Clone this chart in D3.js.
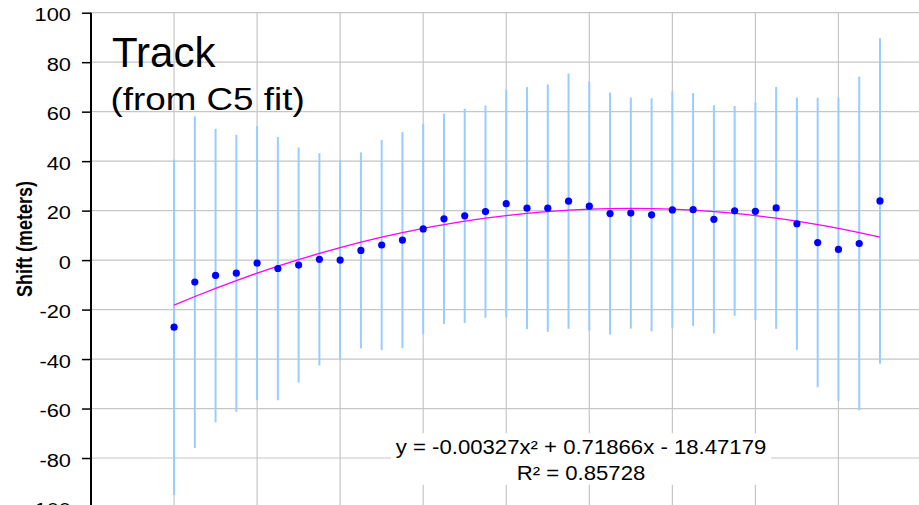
<!DOCTYPE html>
<html><head><meta charset="utf-8">
<script src="https://cdn.jsdelivr.net/npm/d3@7"></script>
<style>html,body{margin:0;padding:0;background:#fff;overflow:hidden}</style>
</head><body><svg id="c" width="919" height="505"></svg>
<script>
// ---- data ----
const xValues = [0,5,10,15,20,25,30,35,40,45,50,55,60,65,70,75,80,85,90,95,100,105,110,115,120,125,130,135,140,145,150,155,160,165,170];
const shift = [-27.1,-8.9,-6.2,-5.3,-1.2,-3.4,-2.0,0.3,0.0,3.9,6.1,8.1,12.6,16.7,17.9,19.6,22.8,21.0,21.0,23.8,21.8,18.8,19.0,18.3,20.3,20.4,16.5,19.9,19.7,21.1,14.7,7.1,4.3,6.7,23.9];
const errorBar = [67.8,67.0,59.3,56.0,55.4,53.2,47.5,42.9,40.5,39.6,42.5,43.7,42.5,42.5,43.3,42.9,45.9,48.9,50.0,51.6,50.4,48.9,46.7,47.1,47.9,47.1,46.1,42.4,43.9,48.9,51.0,58.5,61.3,67.4,65.8];
const yTicks = [-100,-80,-60,-40,-20,0,20,40,60,80,100];
const yTickLabels = ["-100","-80","-60","-40","-20","0","20","40","60","80","100"];
const xGridTicks = [-20,0,20,40,60,80,100,120,140,160,180];
const titleLines = ["Track", "(from C5 fit)"];
const yLabel = "Shift (meters)";
const equationLines = ["y = -0.00327x\u00B2 + 0.71866x - 18.47179", "R\u00B2 = 0.85728"];

// ---- layout ----
const svg = d3.select("#c");
const FONT = "'Liberation Sans', Arial, sans-serif";
const x = d3.scaleLinear().domain([-20,180]).range([91,921.5]);
const y = d3.scaleLinear().domain([-100,100]).range([507.5,12.7]);

// gridlines
const grid = svg.append("g");
grid.selectAll("line.h").data(yTicks).join("line")
  .attr("x1", x(-20)).attr("x2", 919)
  .attr("y1", d => y(d)).attr("y2", d => y(d))
  .attr("stroke", "#c6c6c6").attr("stroke-width", 1.2);
grid.selectAll("line.v").data(xGridTicks.slice(1)).join("line")
  .attr("x1", d => x(d)).attr("x2", d => x(d))
  .attr("y1", y(100)).attr("y2", y(-100))
  .attr("stroke", "#c6c6c6").attr("stroke-width", 1.2);

// error bars
svg.append("g").selectAll("line").data(xValues).join("line")
  .attr("x1", d => x(d)).attr("x2", d => x(d))
  .attr("y1", (d,i) => y(shift[i] + errorBar[i]))
  .attr("y2", (d,i) => y(shift[i] - errorBar[i]))
  .attr("stroke", "#99ccff").attr("stroke-width", 2);

// quadratic least squares trendline
function fitQuad(xs, ys){
  let S=[0,0,0,0,0], T=[0,0,0];
  xs.forEach((xv,i)=>{ let p=1; for(let k=0;k<5;k++){S[k]+=p; if(k<3) T[k]+=p*ys[i]; p*=xv;} });
  const A=[[S[0],S[1],S[2],T[0]],[S[1],S[2],S[3],T[1]],[S[2],S[3],S[4],T[2]]];
  for(let c=0;c<3;c++){ for(let r=c+1;r<3;r++){ const f=A[r][c]/A[c][c]; for(let k=c;k<4;k++) A[r][k]-=f*A[c][k]; } }
  const b=[0,0,0];
  for(let r=2;r>=0;r--){ let s=A[r][3]; for(let k=r+1;k<3;k++) s-=A[r][k]*b[k]; b[r]=s/A[r][r]; }
  return b;
}
const coef = fitQuad(xValues, shift);
const trend = xValues.map(v => [v, coef[0] + coef[1]*v + coef[2]*v*v]);
svg.append("path").datum(trend)
  .attr("d", d3.line().x(d => x(d[0])).y(d => y(d[1])).curve(d3.curveMonotoneX))
  .attr("fill", "none").attr("stroke", "#ff00ff").attr("stroke-width", 1.3);

// points
svg.append("g").selectAll("circle").data(xValues).join("circle")
  .attr("cx", d => x(d)).attr("cy", (d,i) => y(shift[i]))
  .attr("r", 3.6).attr("fill", "#0000ff");

// y axis
const yAxis = svg.append("g").attr("transform", `translate(${x(-20)},0)`)
  .call(d3.axisLeft(y).tickValues(yTicks).tickSize(9).tickPadding(0)
    .tickFormat((d,i) => yTickLabels[i]));
yAxis.select(".domain").attr("stroke", "#000").attr("stroke-width", 2)
  .attr("d", `M0,${y(100)}V${y(-100)}`);
yAxis.selectAll(".tick line").attr("stroke", "#000").attr("stroke-width", 1.5);
yAxis.selectAll(".tick text")
  .attr("x", 0).attr("dy", "0.42em")
  .attr("transform", "translate(-20,0) scale(1.15,1)")
  .style("font-family", FONT).style("font-size", "19px").attr("fill", "#000");

// y label
svg.append("text")
  .attr("transform", "translate(31.5,239) scale(1.2,1) rotate(-90)")
  .attr("text-anchor", "middle")
  .style("font-family", FONT).style("font-size", "18px").style("font-weight", "bold")
  .text(yLabel);

// title
svg.append("text").attr("x", 112).attr("y", 66.7)
  .style("font-family", FONT).style("font-size", "42px").text(titleLines[0]);
svg.append("text").attr("transform", "translate(110.5,110) scale(1.15,1)")
  .style("font-family", FONT).style("font-size", "32px").text(titleLines[1]);

// equation label with white box
const eq = svg.append("g");
const eqRect = eq.append("rect").attr("fill", "#fff");
const eqText = eq.append("g").attr("transform", "translate(581,0) scale(1.13,1)");
equationLines.forEach((t,i) => {
  eqText.append("text").attr("x", 0).attr("y", [454,480][i])
    .attr("text-anchor", "middle")
    .style("font-family", FONT).style("font-size", "19.6px").text(t);
});
const bb = eqText.node().getBBox();
eqRect.attr("x", 581 + bb.x*1.13 - 5).attr("width", bb.width*1.13 + 10)
  .attr("y", bb.y - 3).attr("height", bb.height + 4);
</script></body></html>
